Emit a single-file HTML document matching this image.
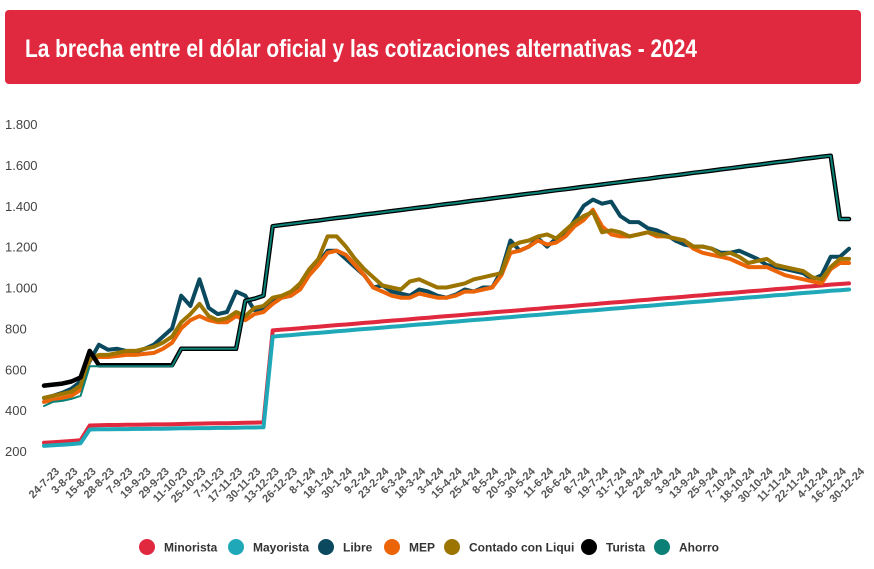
<!DOCTYPE html>
<html><head><meta charset="utf-8"><style>
body{margin:0;background:#fff;}
svg{display:block;font-family:"Liberation Sans",sans-serif;}
</style></head><body>
<svg id="chart" width="874" height="569" viewBox="0 0 874 569">
<rect x="5" y="10" width="856" height="74" rx="4" fill="#e0283e"/>
<text x="25" y="57" fill="#fff" font-size="25" font-weight="bold" textLength="672" lengthAdjust="spacingAndGlyphs">La brecha entre el dólar oficial y las cotizaciones alternativas - 2024</text>
<g id="yaxis"></g>
<g id="xaxis"></g>
<g id="series"></g>
<g id="legend"></g>
</svg>
<script>
const tickLabels=["24-7-23","3-8-23","15-8-23","28-8-23","7-9-23","19-9-23","29-9-23","11-10-23","25-10-23","7-11-23","17-11-23","30-11-23","13-12-23","26-12-23","8-1-24","18-1-24","30-1-24","9-2-24","23-2-24","6-3-24","18-3-24","3-4-24","15-4-24","25-4-24","8-5-24","20-5-24","30-5-24","11-6-24","26-6-24","8-7-24","19-7-24","31-7-24","12-8-24","22-8-24","3-9-24","13-9-24","25-9-24","7-10-24","18-10-24","30-10-24","11-11-24","22-11-24","4-12-24","16-12-24","30-12-24"];
const yTicks=[200,400,600,800,1000,1200,1400,1600,1800];
const libre=[460,470,485,505,540,640,720,695,700,690,685,700,720,760,800,960,910,1040,900,870,880,980,960,890,890,940,950,960,1000,1070,1120,1180,1180,1140,1100,1060,1000,1010,980,970,960,990,980,960,950,965,990,980,1000,1000,1080,1230,1180,1200,1240,1200,1240,1260,1330,1400,1430,1410,1420,1350,1320,1320,1290,1280,1260,1230,1210,1200,1200,1190,1170,1170,1180,1160,1140,1110,1100,1090,1080,1070,1040,1060,1150,1150,1190];
const mep=[440,450,460,470,500,650,660,660,665,670,670,675,680,700,730,800,840,860,840,830,830,860,840,870,880,920,950,960,990,1060,1110,1170,1180,1160,1110,1060,1000,980,960,950,950,970,960,950,950,960,980,980,990,1000,1060,1170,1180,1200,1230,1210,1220,1250,1300,1330,1380,1300,1260,1250,1250,1260,1270,1250,1250,1240,1230,1190,1170,1160,1150,1140,1120,1100,1100,1100,1080,1060,1050,1040,1030,1020,1090,1120,1120];
const ccl=[460,470,480,490,520,650,670,670,680,690,690,700,710,730,760,830,870,920,860,840,850,880,860,900,910,950,960,980,1020,1090,1140,1250,1250,1200,1140,1090,1050,1010,1000,990,1030,1040,1020,1000,1000,1010,1020,1040,1050,1060,1070,1200,1220,1230,1250,1260,1240,1280,1320,1350,1370,1270,1280,1270,1250,1260,1270,1260,1250,1240,1230,1200,1200,1190,1160,1170,1150,1120,1130,1140,1110,1100,1090,1080,1050,1040,1100,1140,1140];
const minorista=[240,243,246,249,253,325,326,327,327,328,328,329,330,330,331,332,333,334,335,336,336,337,338,339,340,790,794,797,801,805,808,812,816,819,823,827,830,834,838,841,845,849,852,856,860,863,867,871,874,878,882,885,889,893,896,900,904,907,911,915,918,922,926,929,933,937,940,944,948,951,955,959,962,966,970,973,977,981,984,988,992,995,999,1003,1006,1010,1014,1017,1020];
const mayorista=[225,228,231,234,238,305,306,306,307,307,308,308,309,309,310,311,311,312,312,313,313,314,315,315,316,760,764,767,771,775,778,782,786,789,793,797,800,804,808,811,815,819,822,826,830,833,837,841,844,848,852,855,859,863,866,870,874,877,881,885,888,892,896,899,903,907,910,914,918,921,925,929,932,936,940,943,947,951,954,958,962,965,969,973,976,980,984,987,990];
const ahorro=[420,440,445,455,470,615,615,615,615,615,615,615,615,615,615,700,700,700,700,700,700,700,935,945,960,1300,1306,1311,1317,1323,1328,1334,1340,1345,1351,1357,1362,1368,1374,1379,1385,1391,1396,1402,1408,1413,1419,1425,1430,1436,1442,1447,1453,1459,1464,1470,1476,1481,1487,1493,1498,1504,1510,1515,1521,1527,1532,1538,1544,1549,1555,1561,1566,1572,1578,1583,1589,1595,1600,1606,1612,1617,1623,1629,1634,1640,1645,1335,1335];
const turista=[520,525,530,540,560,690,620,620,620,620,620,620,620,620,620,700,700,700,700,700,700,700,935,945,960,1300,1306,1311,1317,1323,1328,1334,1340,1345,1351,1357,1362,1368,1374,1379,1385,1391,1396,1402,1408,1413,1419,1425,1430,1436,1442,1447,1453,1459,1464,1470,1476,1481,1487,1493,1498,1504,1510,1515,1521,1527,1532,1538,1544,1549,1555,1561,1566,1572,1578,1583,1589,1595,1600,1606,1612,1617,1623,1629,1634,1640,1645,1335,1335];
const NS="http://www.w3.org/2000/svg";
const x0=44,x1=849,N=88;
function xPos(k){return x0+(x1-x0)*k/N;}
function yPos(v){return 451-(v-200)*(451-124)/1600;}
function mk(t,a,p){const e=document.createElementNS(NS,t);for(const k in a)e.setAttribute(k,a[k]);p.appendChild(e);return e;}
const yax=document.getElementById('yaxis');
yTicks.forEach(v=>{const t=mk('text',{x:5,y:yPos(v)+5,'font-size':13,fill:'#444'},yax);


t.textContent=v>=1000?(Math.floor(v/1000)+'.'+String(v%1000).padStart(3,'0')):String(v);});
const xax=document.getElementById('xaxis');
tickLabels.forEach((l,i)=>{const px=xPos(i*2)+16,py=472;
const t=mk('text',{x:px,y:py,'font-size':11,'font-weight':'bold',fill:'#555','text-anchor':'end',transform:'rotate(-45 '+px+' '+py+')'},xax);


t.textContent=l;});
const sg=document.getElementById('series');
function line(data,color,w,name){const d=data.map((v,k)=>(k?'L':'M')+xPos(k).toFixed(1)+','+yPos(v).toFixed(1)).join('');
const p=mk('path',{d:d,fill:'none',stroke:color,'stroke-width':w,'stroke-linejoin':'round','stroke-linecap':'round'},sg);

}
line(minorista,'#e0283e',4,'minorista-line');
line(mayorista,'#1fa8b8',4,'mayorista-line');
line(libre,'#0b4a5e',4,'libre-line');
line(mep,'#ec6408',4,'mep-line');
line(ccl,'#9c7400',4,'ccl-line');
line(turista,'#000000',4.5,'turista-line');
line(ahorro,'#0a8077',2,'ahorro-line');
const legendItems=["Minorista","Mayorista","Libre","MEP","Contado con Liqui","Turista","Ahorro"];
const legendColors=['#e0283e','#1fa8b8','#0b4a5e','#ec6408','#9c7400','#000000','#0a8077'];
const legendX=[147,236,326,392,452,589,662];
const lg=document.getElementById('legend');
legendItems.forEach((n,i)=>{const g=mk('g',{},lg);


mk('circle',{cx:legendX[i],cy:547,r:8,fill:legendColors[i]},g);
const t=mk('text',{x:legendX[i]+17,y:551.5,'font-size':12,'font-weight':'bold',fill:'#333'},g);
t.textContent=n;});
</script>
</body></html>
